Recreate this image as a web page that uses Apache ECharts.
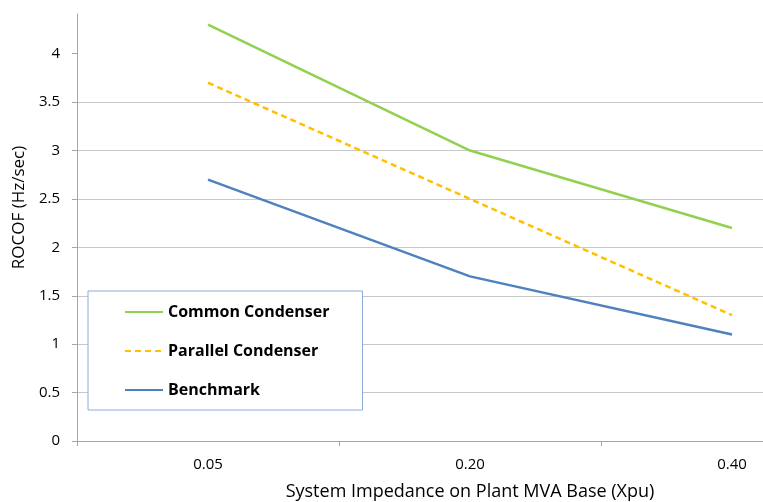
<!DOCTYPE html>
<html>
<head>
<meta charset="utf-8">
<script src="https://cdn.jsdelivr.net/npm/echarts@6/dist/echarts.min.js"></script>
<style>
  html, body { margin: 0; padding: 0; background: #fff; overflow: hidden; }
  #main { width: 863px; height: 502px; }
</style>
</head>
<body>
<div id="main"></div>
<script>
const categories = ['0.05', '0.20', '0.40']
const commonCondenser = [4.3, 3.0, 2.2]
const parallelCondenser = [3.7, 2.5, 1.3]
const benchmark = [2.7, 1.7, 1.1]

const chart = echarts.init(document.getElementById('main'))
const font = '"Open Sans", "Noto Sans", sans-serif'

const option = {
  animation: false,
  grid: { left: 77, right: 0, top: 14, bottom: 61, outerBoundsMode: 'none' },
  legend: {
    orient: 'vertical',
    left: 88,
    top: 291,
    padding: [13, 33, 12, 36],
    itemGap: 23,
    itemWidth: 38,
    itemHeight: 16,
    borderColor: '#8eaadb',
    borderWidth: 1,
    backgroundColor: '#fff',
    itemStyle: { opacity: 0 },
    textStyle: { fontFamily: font, fontWeight: 'bold', fontSize: 16, color: '#000' },
    data: ['Common Condenser', 'Parallel Condenser', 'Benchmark']
  },
  xAxis: {
    type: 'category',
    data: categories,
    boundaryGap: true,
    name: 'System Impedance on Plant MVA Base (Xpu)',
    nameLocation: 'middle',
    nameGap: 42,
    nameTextStyle: { fontFamily: font, fontSize: 18, color: '#000' },
    axisLine: { lineStyle: { color: '#a6a6a6' } },
    axisTick: { show: true, length: 5, lineStyle: { color: '#a6a6a6' } },
    axisLabel: { fontFamily: font, fontSize: 15, color: '#000', margin: 16 }
  },
  yAxis: {
    type: 'value',
    min: 0,
    max: 4.41,
    interval: 0.5,
    name: 'ROCOF (Hz/sec)',
    nameLocation: 'middle',
    nameGap: 42,
    nameTextStyle: { fontFamily: font, fontSize: 17, color: '#000', padding: [0, 0, 0, 40] },
    axisLine: { show: true, lineStyle: { color: '#a6a6a6' } },
    axisTick: { show: true, length: 5, lineStyle: { color: '#a6a6a6' }, customValues: [0, 0.5, 1, 1.5, 2, 2.5, 3, 3.5, 4] },
    axisLabel: { fontFamily: font, fontSize: 15, color: '#000', margin: 17, showMaxLabel: false },
    splitLine: { showMaxLine: false, lineStyle: { color: '#c8c8c8' } }
  },
  series: [
    {
      name: 'Common Condenser',
      type: 'line',
      data: commonCondenser,
      symbol: 'none',
      itemStyle: { color: '#92d050' },
      lineStyle: { color: '#92d050', width: 2.5 }
    },
    {
      name: 'Parallel Condenser',
      type: 'line',
      data: parallelCondenser,
      symbol: 'none',
      itemStyle: { color: '#ffc000' },
      lineStyle: { color: '#ffc000', width: 2.5, type: [6, 4] }
    },
    {
      name: 'Benchmark',
      type: 'line',
      data: benchmark,
      symbol: 'none',
      itemStyle: { color: '#4f81bd' },
      lineStyle: { color: '#4f81bd', width: 2.5 }
    }
  ]
}

chart.setOption(option)
</script>
</body>
</html>
